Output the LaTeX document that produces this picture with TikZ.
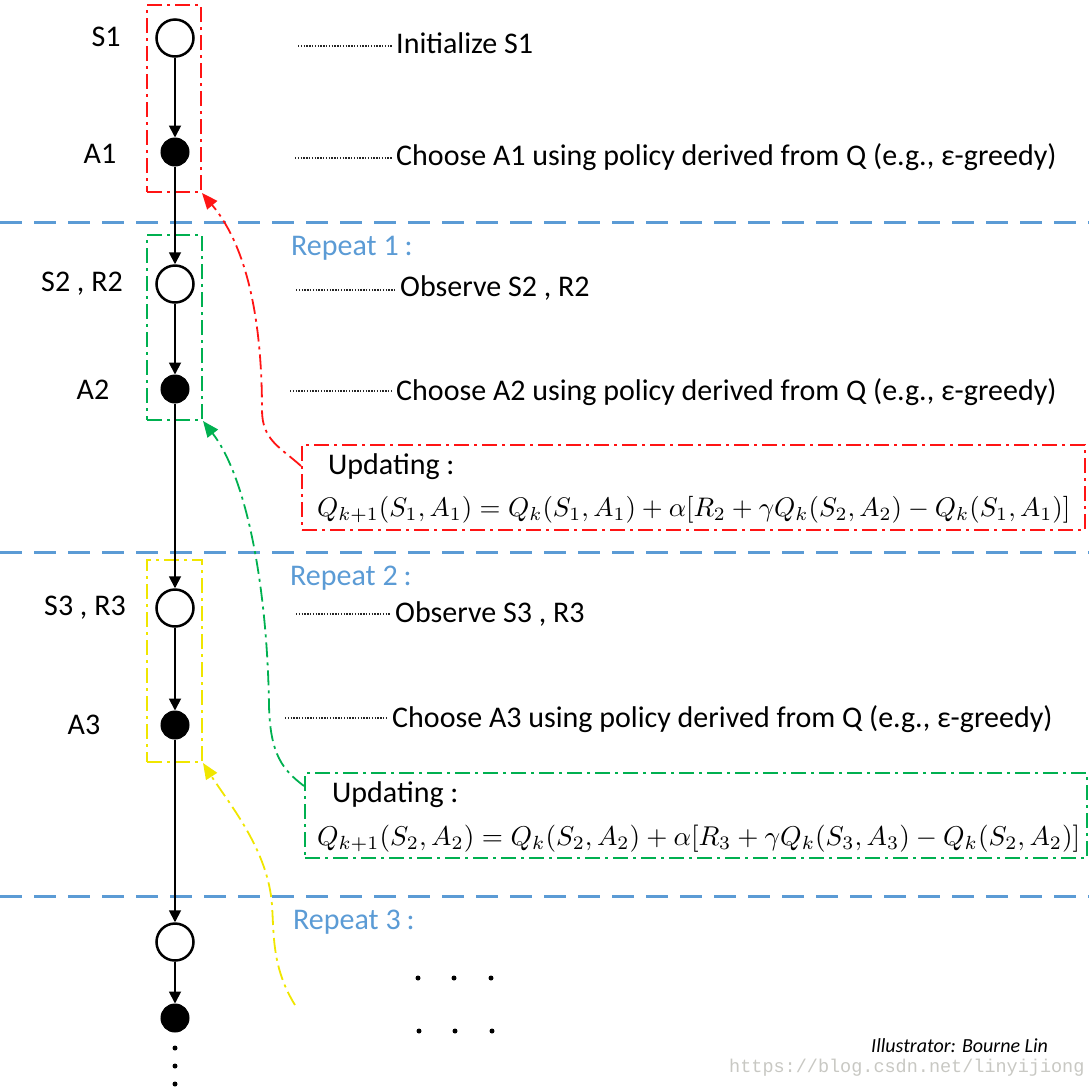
\documentclass[tikz,border=0pt]{standalone}
\usepackage{fontspec}
\setmainfont{Carlito}
\newfontfamily\wmfont{Liberation Mono}
\usepackage{graphicx}
\usetikzlibrary{arrows.meta}
\definecolor{myred}{RGB}{255,20,20}
\definecolor{mygreen}{RGB}{0,176,80}
\definecolor{myyellow}{RGB}{240,230,0}
\definecolor{myblue}{RGB}{91,155,213}
\definecolor{wmgray}{RGB}{200,200,195}
\begin{document}
\begin{tikzpicture}[x=1pt,y=-1pt,
  state/.style={circle, draw=black, line width=2.5pt, fill=white, minimum size=37pt, inner sep=0pt},
  action/.style={circle, draw=black, fill=black, line width=1pt, minimum size=28pt, inner sep=0pt},
  chainarrow/.style={-{Triangle[length=12pt,width=12pt]}, line width=1.8pt, black},
  lbl/.style={font=\fontsize{30}{34}\selectfont, anchor=center, inner sep=0pt},
  desc/.style={font=\fontsize{30}{34}\selectfont, anchor=west, inner sep=0pt},
  lead/.style={line width=1.4pt, dash pattern=on 1.4pt off 1.4pt, black!85, shorten >=4pt},
  sep/.style={myblue, line width=3pt, dash pattern=on 22pt off 12pt},
  rep/.style={font=\fontsize{30}{34}\selectfont, text=myblue, anchor=west, inner sep=0pt},
  dd/.style={line width=2pt, dash pattern=on 15pt off 5pt on 3pt off 5pt},
  grp/.style={dd, draw, rectangle, inner sep=0pt},
  fb/.style={line width=1.8pt, dash pattern=on 15pt off 5pt on 3pt off 5pt, -{Triangle[length=16pt,width=13pt]}},
  updtext/.style={font=\fontsize{30}{34}\selectfont, anchor=west, inner sep=0pt},
  smalldot/.style={circle, fill=black, inner sep=0pt, minimum size=5pt}
]
\clip (0,0) rectangle (1089,1088);
\useasboundingbox (0,0) rectangle (1089,1088);

% separators
\coordinate (sepL1) at (0,222); \coordinate (sepR1) at (1089,222);
\coordinate (sepL2) at (0,552); \coordinate (sepR2) at (1089,552);
\coordinate (sepL3) at (0,896); \coordinate (sepR3) at (1089,896);
\draw[sep] (sepL1) -- (sepR1);
\draw[sep] (sepL2) -- (sepR2);
\draw[sep] (sepL3) -- (sepR3);

% group boxes
\node[grp, draw=myred, minimum width=54pt, minimum height=187pt] (rbox) at (174,98.5) {};
\node[grp, draw=mygreen, minimum width=55pt, minimum height=185pt] (gbox) at (174.5,327.5) {};
\node[grp, draw=myyellow, minimum width=55pt, minimum height=202pt] (ybox) at (174.5,661) {};

% chain nodes
\node[state] (s1) at (175,38) {};
\node[action] (a1) at (175,152) {};
\node[state] (s2) at (175,284) {};
\node[action] (a2) at (175,389) {};
\node[state] (s3) at (175,608) {};
\node[action] (a3) at (175,725) {};
\node[state] (s4) at (175,942) {};
\node[action] (a4) at (175,1018) {};

\draw[chainarrow] (s1) -- (a1);
\draw[chainarrow] (a1) -- (s2);
\draw[chainarrow] (s2) -- (a2);
\draw[chainarrow] (a2) -- (s3);
\draw[chainarrow] (s3) -- (a3);
\draw[chainarrow] (a3) -- (s4);
\draw[chainarrow] (s4) -- (a4);

\node[smalldot] (d1) at (175,1048) {};
\node[smalldot] (d2) at (175,1066) {};
\node[smalldot] (d3) at (175,1084) {};

% left labels
\node[lbl] (ls1) at (106,37) {S1};
\node[lbl] (la1) at (100,154) {A1};
\node[lbl] (ls2) at (82,284) {S2 , R2};
\node[lbl] (la2) at (93,390) {A2};
\node[lbl] (ls3) at (85,608) {S3 , R3};
\node[lbl] (la3) at (84,725) {A3};

% descriptions
\node[desc] (t1) at (396,43) {Initialize S1};
\node[desc] (t2) at (396,157) {Choose A1 using policy derived from Q (e.g., ε-greedy)};
\node[desc] (t3) at (400,288) {Observe S2 , R2};
\node[desc] (t4) at (396,392) {Choose A2 using policy derived from Q (e.g., ε-greedy)};
\node[desc] (t5) at (395,614) {Observe S3 , R3};
\node[desc] (t6) at (392,719) {Choose A3 using policy derived from Q (e.g., ε-greedy)};

\coordinate (l1) at (298,46);
\coordinate (l2) at (295,158);
\coordinate (l3) at (296,290);
\coordinate (l4) at (290,391);
\coordinate (l5) at (296,614);
\coordinate (l6) at (285,718);
\draw[lead] (l1) -- (l1 -| t1.west);
\draw[lead] (l2) -- (l2 -| t2.west);
\draw[lead] (l3) -- (l3 -| t3.west);
\draw[lead] (l4) -- (l4 -| t4.west);
\draw[lead] (l5) -- (l5 -| t5.west);
\draw[lead] (l6) -- (l6 -| t6.west);

% repeat labels
\node[rep] (r1) at (291,248) {Repeat 1\hspace{6pt}:};
\node[rep] (r2) at (290,578) {Repeat 2\hspace{6pt}:};
\node[rep] (r3) at (293,922) {Repeat 3\hspace{6pt}:};

% update boxes
\node[grp, draw=myred, minimum width=783pt, minimum height=85pt] (rupd) at (693.5,487.5) {};
\node[grp, draw=mygreen, minimum width=782pt, minimum height=85pt] (gupd) at (696,815.5) {};
\node[updtext] (u1) at (328,467) {Updating :};
\node[updtext] (u2) at (332,795) {Updating :};
\node[inner sep=0pt, anchor=west] (f1) at (317,510) {\resizebox{753pt}{!}{$Q_{k+1}(S_1,A_1)=Q_k(S_1,A_1)+\alpha[R_2+\gamma Q_k(S_2,A_2)-Q_k(S_1,A_1)]$}};
\node[inner sep=0pt, anchor=west] (f2) at (317,839) {\resizebox{763pt}{!}{$Q_{k+1}(S_2,A_2)=Q_k(S_2,A_2)+\alpha[R_3+\gamma Q_k(S_3,A_3)-Q_k(S_2,A_2)]$}};

% feedback arrows
\draw[fb, myred] ([yshift=-22pt]rupd.north west) .. controls (280,447) and (262,440) .. (262,410) .. controls (262,330) and (250,250) .. (rbox.south east);
\draw[fb, mygreen] ([yshift=-14pt]gupd.north west) .. controls (283,770) and (270,755) .. (269,705) .. controls (267,580) and (245,475) .. (gbox.south east);
\coordinate (yend) at (295,1005);
\draw[fb, myyellow] (yend) .. controls (272,968) and (274,935) .. (272,905) .. controls (268,850) and (230,805) .. (ybox.south east);

% dots
\node[smalldot] (e1) at (418,978) {};
\node[smalldot] (e2) at (454,978) {};
\node[smalldot] (e3) at (491,978) {};
\node[smalldot] (e4) at (419,1031) {};
\node[smalldot] (e5) at (455,1031) {};
\node[smalldot] (e6) at (492,1031) {};

% credits
\node[anchor=west, inner sep=0pt, font=\fontsize{18.5}{21}\wmfont, text=wmgray] (wm) at (729,1068) {https://blog.csdn.net/linyijiong};
\node[anchor=west, inner sep=0pt, font=\fontsize{20}{23}\selectfont\itshape] (ill) at (871,1046) {Illustrator: Bourne Lin};
\end{tikzpicture}
\end{document}
